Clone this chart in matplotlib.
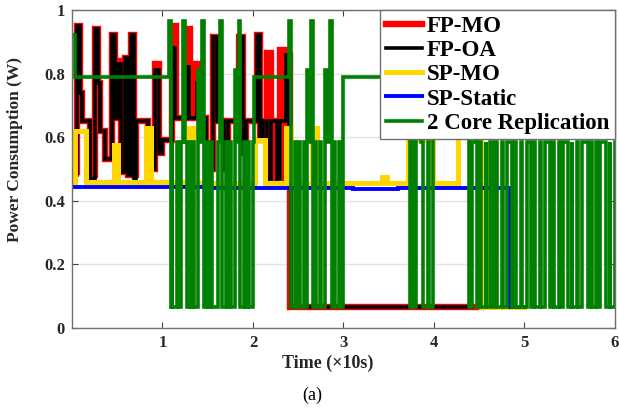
import numpy as np
import matplotlib
matplotlib.use('Agg')
import matplotlib.pyplot as plt

plt.rcParams['font.family'] = ['Liberation Serif', 'DejaVu Serif']

# power traces, (time in x10 s, watts), held constant until the next change
fp_mo = [(0.00, 0.60), (0.02, 0.49), (0.06, 0.95), (0.09, 0.74), (0.11, 0.65), (0.20, 0.48),
         (0.25, 0.94), (0.29, 0.77), (0.31, 0.62), (0.36, 0.53), (0.44, 0.92), (0.48, 0.66),
         (0.51, 0.84), (0.54, 0.49), (0.59, 0.85), (0.62, 0.48), (0.65, 0.92), (0.68, 0.48),
         (0.71, 0.65), (0.84, 0.50), (0.92, 0.83), (0.96, 0.55), (1.00, 0.59), (1.10, 0.95),
         (1.15, 0.66), (1.25, 0.94), (1.30, 0.66), (1.37, 0.83), (1.43, 0.66), (1.48, 0.50),
         (1.56, 0.915), (1.60, 0.65), (1.68, 0.50), (1.72, 0.65), (1.85, 0.915), (1.89, 0.55),
         (1.92, 0.65), (2.04, 0.92), (2.08, 0.59), (2.11, 0.65), (2.16, 0.865), (2.20, 0.47),
         (2.24, 0.65), (2.30, 0.875), (2.35, 0.47), (2.37, 0.86), (2.41, 0.065), (4.52, 0.065)]

fp_oa = [(0.00, 0.59), (0.02, 0.48), (0.06, 0.95), (0.09, 0.74), (0.11, 0.65), (0.20, 0.47),
         (0.25, 0.94), (0.29, 0.77), (0.31, 0.62), (0.36, 0.53), (0.44, 0.92), (0.48, 0.66),
         (0.51, 0.83), (0.54, 0.49), (0.59, 0.85), (0.62, 0.48), (0.65, 0.92), (0.68, 0.47),
         (0.71, 0.65), (0.84, 0.50), (0.92, 0.81), (0.96, 0.55), (1.00, 0.59), (1.11, 0.88),
         (1.14, 0.66), (1.26, 0.82), (1.29, 0.66), (1.38, 0.77), (1.42, 0.66), (1.48, 0.50),
         (1.56, 0.915), (1.60, 0.65), (1.68, 0.50), (1.72, 0.65), (1.85, 0.915), (1.89, 0.55),
         (1.92, 0.65), (2.04, 0.92), (2.08, 0.59), (2.11, 0.65), (2.16, 0.47), (2.20, 0.65),
         (2.27, 0.47), (2.30, 0.65), (2.36, 0.86), (2.40, 0.47), (2.42, 0.065), (4.42, 0.065)]

sp_mo = [(0.00, 0.46), (0.03, 0.62), (0.16, 0.46), (0.46, 0.575), (0.51, 0.46), (0.82, 0.63),
         (0.87, 0.46), (1.29, 0.63), (1.34, 0.455), (2.02, 0.59), (2.13, 0.455), (2.36, 0.63),
         (2.42, 0.455), (2.65, 0.63), (2.71, 0.455), (3.43, 0.475), (3.48, 0.455), (3.71, 0.59),
         (3.99, 0.455), (4.27, 0.66), (4.52, 0.065), (5.00, 0.065)]

sp_static = [(0.00, 0.442), (1.50, 0.44), (3.10, 0.438), (3.60, 0.44), (4.84, 0.065), (5.00, 0.065)]

core2 = [(0.00, 0.92), (0.03, 0.79), (1.07, 0.965), (1.09, 0.065), (1.10, 0.585), (1.11, 0.065),
         (1.16, 0.585), (1.17, 0.065), (1.21, 0.585), (1.23, 0.965), (1.25, 0.585), (1.27, 0.065),
         (1.30, 0.585), (1.31, 0.065), (1.34, 0.585), (1.35, 0.065), (1.39, 0.81), (1.41, 0.585),
         (1.44, 0.965), (1.46, 0.065), (1.49, 0.585), (1.50, 0.065), (1.54, 0.585), (1.55, 0.065),
         (1.61, 0.585), (1.64, 0.965), (1.66, 0.065), (1.70, 0.585), (1.71, 0.065), (1.75, 0.585),
         (1.76, 0.065), (1.80, 0.81), (1.82, 0.585), (1.84, 0.965), (1.86, 0.065), (1.90, 0.585),
         (1.91, 0.065), (1.95, 0.585), (1.96, 0.065), (2.00, 0.585), (2.01, 0.79), (2.40, 0.965),
         (2.42, 0.065), (2.46, 0.585), (2.47, 0.065), (2.51, 0.585), (2.52, 0.065), (2.56, 0.585),
         (2.57, 0.065), (2.60, 0.81), (2.62, 0.585), (2.64, 0.965), (2.66, 0.065), (2.69, 0.585),
         (2.70, 0.065), (2.74, 0.585), (2.75, 0.065), (2.80, 0.81), (2.83, 0.585), (2.85, 0.965),
         (2.87, 0.065), (2.90, 0.585), (2.91, 0.065), (2.95, 0.585), (2.96, 0.065), (3.00, 0.79),
         (3.71, 0.965), (3.73, 0.065), (3.76, 0.585), (3.77, 0.065), (3.80, 0.79), (3.86, 0.585),
         (3.88, 0.065), (3.93, 0.585), (3.94, 0.065), (3.99, 0.965), (4.01, 0.79), (4.38, 0.965),
         (4.39, 0.065), (4.42, 0.585), (4.45, 0.965), (4.47, 0.065), (4.51, 0.585), (4.52, 0.065),
         (4.57, 0.585), (4.58, 0.065), (4.62, 0.585), (4.65, 0.065), (4.69, 0.585), (4.70, 0.065),
         (4.75, 0.585), (4.76, 0.065), (4.81, 0.585), (4.86, 0.065), (4.90, 0.585), (4.91, 0.065),
         (4.96, 0.585), (4.97, 0.065), (5.03, 0.585), (5.07, 0.065), (5.11, 0.585), (5.12, 0.065),
         (5.17, 0.585), (5.18, 0.065), (5.23, 0.585), (5.28, 0.065), (5.32, 0.585), (5.33, 0.065),
         (5.38, 0.585), (5.39, 0.065), (5.43, 0.585), (5.48, 0.065), (5.52, 0.585), (5.53, 0.065),
         (5.58, 0.585), (5.59, 0.065), (5.64, 0.585), (5.70, 0.065), (5.74, 0.585), (5.75, 0.065),
         (5.79, 0.585), (5.80, 0.065), (5.83, 0.585), (5.90, 0.065), (5.94, 0.585), (5.95, 0.065),
         (6.00, 0.585)]

labels = ['FP-MO', 'FP-OA', 'SP-MO', 'SP-Static', '2 Core Replication']
colors = ['#ff0000', '#000000', '#ffd700', '#0000ff', '#008000']
widths = [4.6, 2.6, 3.6, 2.8, 2.6]
series = [fp_mo, fp_oa, sp_mo, sp_static, core2]

xticks = [1, 2, 3, 4, 5, 6]
yticks = [0, 0.2, 0.4, 0.6, 0.8, 1]
ytick_labels = ['0', '0.2', '0.4', '0.6', '0.8', '1']

fig = plt.figure(figsize=(6.19, 4.09), dpi=100)
ax = fig.add_axes([0.1163, 0.198, 0.8772, 0.7776])

for data, lab, c, lw in zip(series, labels, colors, widths):
    arr = np.array(data)
    ax.plot(arr[:, 0], arr[:, 1], drawstyle='steps-post', color=c, lw=lw, label=lab,
            solid_joinstyle='miter')

ax.set_xlim(0, 6)
ax.set_ylim(0, 1)
ax.set_xticks(xticks)
ax.set_xticklabels([str(t) for t in xticks])
ax.set_yticks(yticks)
ax.set_yticklabels(ytick_labels)
ax.grid(axis='y', color='#e3e3e3', lw=1.0)
ax.set_axisbelow(True)

for s in ax.spines.values():
    s.set_color('#707070')
    s.set_linewidth(1.0)
ax.tick_params(direction='in', top=True, right=True, length=4, width=0.8,
               color='#404040', labelsize=12, pad=5)
for t in ax.get_xticklabels() + ax.get_yticklabels():
    t.set_fontweight('bold')
    t.set_color('#262626')

ax.set_xlabel('Time (\u00d710s)', fontsize=13, fontweight='bold', color='#262626')
ax.set_ylabel('Power Consumption (W)', fontsize=12.5, fontweight='bold', color='#262626')
ax.xaxis.set_label_coords(0.47, -0.085)
ax.yaxis.set_label_coords(-0.09, 0.56)

leg = ax.legend(loc='upper right', borderaxespad=0, fancybox=False, framealpha=1,
                edgecolor='#707070', prop={'weight': 'bold', 'size': 16.5},
                handlelength=1.6, handletextpad=0.2, labelspacing=0.14,
                borderpad=0.25)
leg.get_frame().set_linewidth(1.0)

fig.text(312 / 619, 1 - 395 / 409, '(a)', ha='center', va='center', fontsize=13)

fig.savefig('out.png', dpi=100)
